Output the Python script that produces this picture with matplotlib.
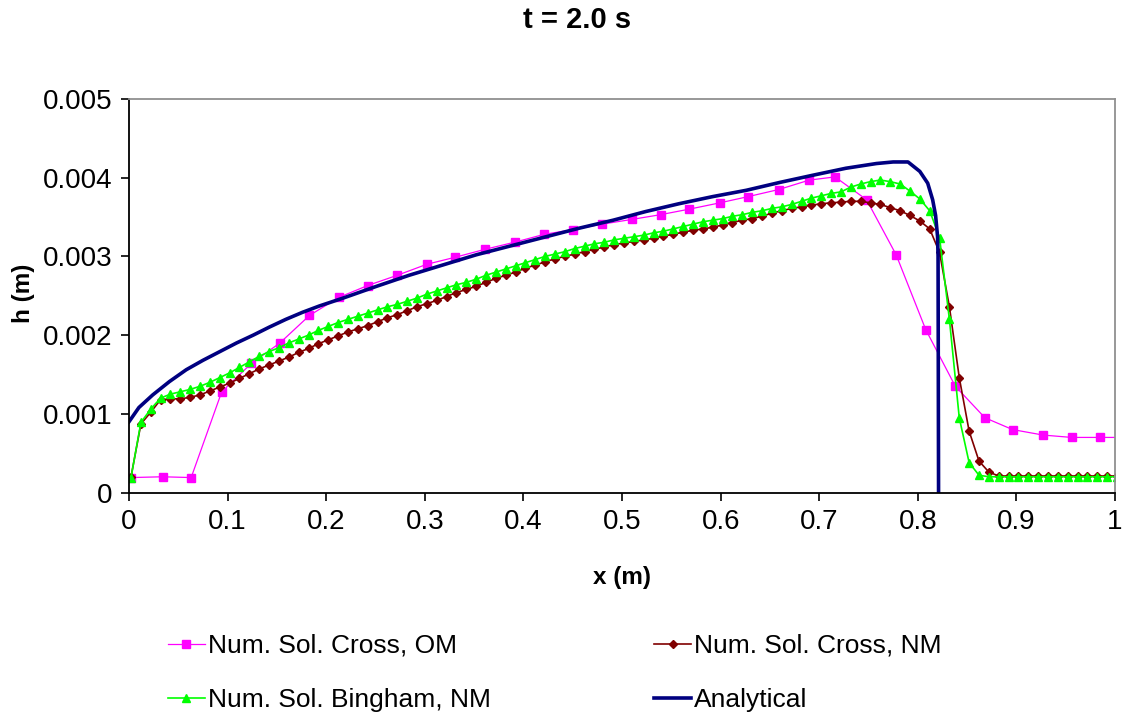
import numpy as np
import matplotlib
matplotlib.use("Agg")
import matplotlib.pyplot as plt
from matplotlib.ticker import FuncFormatter, MultipleLocator

plt.rcParams['font.family'] = ['Liberation Sans', 'DejaVu Sans']

# Cross model, old method (coarse grid)
x_cross_om = [0.002, 0.034, 0.063, 0.094, 0.124, 0.153, 0.183, 0.213, 0.242, 0.272,
              0.302, 0.331, 0.361, 0.391, 0.421, 0.450, 0.480, 0.510, 0.539, 0.568,
              0.599, 0.628, 0.659, 0.690, 0.716, 0.748, 0.778, 0.808, 0.838, 0.868,
              0.896, 0.927, 0.956, 0.985, 1.015]
h_cross_om = [0.00019, 0.00020, 0.00019, 0.00128, 0.00164, 0.00190, 0.00225, 0.00248, 0.00263, 0.00276,
              0.00290, 0.00299, 0.00309, 0.00318, 0.00328, 0.00334, 0.00341, 0.00347, 0.00353, 0.00360,
              0.00368, 0.00376, 0.00385, 0.00397, 0.00401, 0.00372, 0.00302, 0.00207, 0.00135, 0.00095,
              0.00080, 0.00073, 0.00070, 0.00070, 0.00070]

# new method runs share a 0.01 m grid
x_nm = 0.002 + 0.01 * np.arange(101)

h_cross_nm = [0.00020, 0.00087, 0.00102, 0.00118, 0.00119, 0.00119, 0.00121, 0.00124, 0.00129, 0.00134,
              0.00139, 0.00145, 0.00151, 0.00157, 0.00162, 0.00167, 0.00172, 0.00178, 0.00183, 0.00189,
              0.00194, 0.00199, 0.00204, 0.00208, 0.00212, 0.00217, 0.00222, 0.00226, 0.00231, 0.00236,
              0.00240, 0.00244, 0.00249, 0.00254, 0.00258, 0.00262, 0.00267, 0.00272, 0.00276, 0.00280,
              0.00285, 0.00289, 0.00293, 0.00297, 0.00300, 0.00303, 0.00306, 0.00309, 0.00312, 0.00315,
              0.00317, 0.00319, 0.00321, 0.00323, 0.00326, 0.00328, 0.00331, 0.00333, 0.00335, 0.00337,
              0.00340, 0.00343, 0.00346, 0.00348, 0.00351, 0.00355, 0.00358, 0.00361, 0.00363, 0.00365,
              0.00367, 0.00368, 0.00369, 0.00370, 0.00370, 0.00368, 0.00366, 0.00362, 0.00358, 0.00352,
              0.00345, 0.00335, 0.00305, 0.00236, 0.00146, 0.00078, 0.00040, 0.00026, 0.00021, 0.00021,
              0.00021, 0.00021, 0.00021, 0.00021, 0.00021, 0.00021, 0.00021, 0.00021, 0.00021, 0.00021,
              0.00021]

h_bingham_nm = [0.00019, 0.00089, 0.00106, 0.00120, 0.00125, 0.00128, 0.00131, 0.00135, 0.00140, 0.00146,
                0.00152, 0.00159, 0.00166, 0.00173, 0.00179, 0.00184, 0.00190, 0.00195, 0.00200, 0.00206,
                0.00211, 0.00216, 0.00220, 0.00224, 0.00228, 0.00232, 0.00236, 0.00239, 0.00243, 0.00247,
                0.00252, 0.00256, 0.00260, 0.00264, 0.00267, 0.00271, 0.00276, 0.00280, 0.00284, 0.00288,
                0.00292, 0.00296, 0.00300, 0.00303, 0.00306, 0.00310, 0.00313, 0.00316, 0.00318, 0.00321,
                0.00323, 0.00325, 0.00327, 0.00330, 0.00332, 0.00335, 0.00338, 0.00341, 0.00344, 0.00346,
                0.00348, 0.00351, 0.00353, 0.00356, 0.00358, 0.00361, 0.00363, 0.00366, 0.00370, 0.00374,
                0.00377, 0.00380, 0.00382, 0.00388, 0.00392, 0.00395, 0.00397, 0.00395, 0.00392, 0.00383,
                0.00373, 0.00358, 0.00324, 0.00220, 0.00095, 0.00038, 0.00022, 0.00020, 0.00020, 0.00020,
                0.00020, 0.00020, 0.00020, 0.00020, 0.00020, 0.00020, 0.00020, 0.00020, 0.00020, 0.00020,
                0.00020]

# analytical solution
x_analytical = [0.000, 0.010, 0.024, 0.041, 0.058, 0.075, 0.092, 0.109, 0.126, 0.142,
                0.159, 0.176, 0.193, 0.217, 0.251, 0.284, 0.318, 0.352, 0.389, 0.423,
                0.457, 0.491, 0.524, 0.558, 0.592, 0.626, 0.660, 0.693, 0.727, 0.758,
                0.775, 0.790, 0.802, 0.810, 0.815, 0.818, 0.820, 0.8205, 0.821]
h_analytical = [0.00090, 0.00108, 0.00124, 0.00141, 0.00156, 0.00168, 0.00179, 0.00190, 0.00200, 0.00210,
                0.00220, 0.00229, 0.00237, 0.00247, 0.00262, 0.00276, 0.00289, 0.00302, 0.00314, 0.00325,
                0.00336, 0.00346, 0.00357, 0.00367, 0.00376, 0.00384, 0.00394, 0.00403, 0.00412, 0.00418,
                0.00420, 0.00420, 0.00408, 0.00393, 0.00372, 0.00352, 0.00325, 0.00300, 0.00000]

fig = plt.figure(figsize=(11.31, 7.21), dpi=100)
ax = fig.add_axes([0.1141, 0.3169, 0.8718, 0.5458])

ax.plot(x_cross_om, h_cross_om, color='#FF00FF', lw=0.9, marker='s', ms=5.5,
        label='Num. Sol. Cross, OM')
ax.plot(x_nm, h_cross_nm, color='#800000', lw=1.2, marker='D', ms=4.2,
        label='Num. Sol. Cross, NM')
ax.plot(x_nm, h_bingham_nm, color='#00FF00', lw=1.2, marker='^', ms=6,
        label='Num. Sol. Bingham, NM')
ax.plot(x_analytical, h_analytical, color='#000080', lw=2.6,
        label='Analytical')

ax.set_xlim(0, 1)
ax.set_ylim(0, 0.005)
ax.xaxis.set_major_locator(MultipleLocator(0.1))
ax.yaxis.set_major_locator(MultipleLocator(0.001))
ax.xaxis.set_major_formatter(FuncFormatter(lambda v, p: f'{v:.1f}'.rstrip('0').rstrip('.') if v else '0'))
ax.yaxis.set_major_formatter(FuncFormatter(lambda v, p: f'{v:.3f}' if v else '0'))
ax.tick_params(direction='out', length=6, width=1.2, labelsize=20, pad=6, colors='black')

for side in ('left', 'bottom'):
    ax.spines[side].set_color('black')
    ax.spines[side].set_linewidth(1.3)
for side in ('top', 'right'):
    ax.spines[side].set_color('#909090')
    ax.spines[side].set_linewidth(1.3)

ax.set_xlabel('x (m)', fontsize=17.5, fontweight='bold', va='center')
ax.set_ylabel('h (m)', fontsize=17.5, fontweight='bold', va='center')
ax.xaxis.set_label_coords(0.5, -0.215)
ax.yaxis.set_label_coords(-0.107, 0.505)
fig.text(0.51, 0.972, 't = 2.0 s', ha='center', va='center', fontsize=21, fontweight='bold')

handles, labels = ax.get_legend_handles_labels()
order = [0, 2, 1, 3]
fig.legend([handles[i] for i in order], [labels[i] for i in order],
           loc='upper left', bbox_to_anchor=(168 / 1131, 1 - 634 / 721),
           ncol=2, frameon=False, fontsize=19, handlelength=1.4, handletextpad=0.1,
           columnspacing=6.2, labelspacing=1.15, borderpad=0, borderaxespad=0)

fig.savefig('out.png', dpi=100)
